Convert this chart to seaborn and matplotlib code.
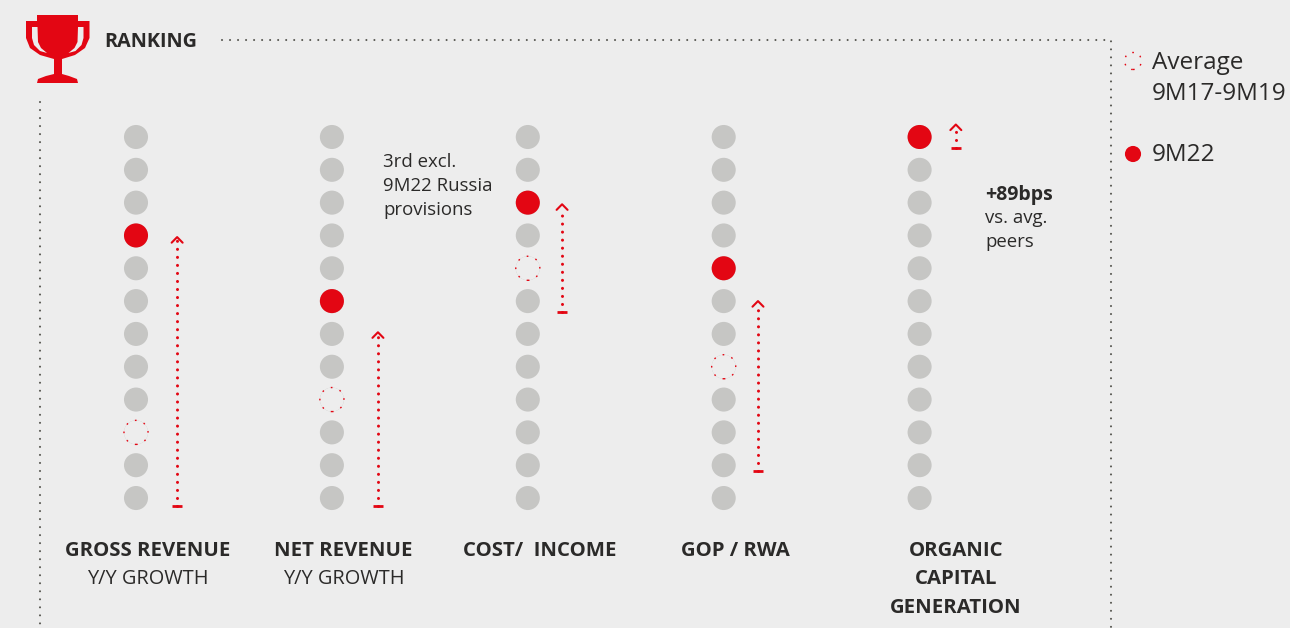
import matplotlib
matplotlib.use("Agg")
import matplotlib.pyplot as plt
from matplotlib.patches import Polygon
import numpy as np
import pandas as pd
import seaborn as sns

# ---- data ----
metrics = ["GROSS REVENUE", "NET REVENUE", "COST/  INCOME", "GOP / RWA", "ORGANIC\nCAPITAL\nGENERATION"]
sublabels = ["Y/Y GROWTH", "Y/Y GROWTH", "", "", ""]
rank_9m22 = [4, 6, 3, 5, 1]
rank_avg = [10, 9, 5, 8, None]
arrow_base = [12.24, 12.24, 6.33, 11.18, 1.33]
arrow_tip = [4.05, 6.95, 3.05, 6.0, 0.62]
arrow_x = [0.21, 1.235, 2.175, 3.175, 4.185]
n_peers = 12
note_net = "3rd excl.\n9M22 Russia\nprovisions"
note_org_bold = "+89bps"
note_org = "vs. avg.\npeers"
legend_avg = "Average\n9M17-9M19"
legend_cur = "9M22"
title = "RANKING"

RED = "#E30613"
GREY = "#C6C6C4"
BG = "#EDEDED"
INK = "#2B2A29"
DOT = "#55554F"

sns.set_theme(style="white")
plt.rcParams["font.family"] = ["Open Sans", "DejaVu Sans"]

W, H = 1290, 628
fig = plt.figure(figsize=(W / 100, H / 100), dpi=100, facecolor=BG)
ax = fig.add_axes([0, 0, 1, 1], facecolor="none")
x0, dx, y0, dy = 136.0, 195.9, 137.0, 32.82
ax.set_xlim(-x0 / dx, (W - x0) / dx)
ax.set_ylim(1 + (H - y0) / dy, 1 - y0 / dy)
ax.axis("off")

# overlay in pixel units for furniture
px = fig.add_axes([0, 0, 1, 1], facecolor="none", zorder=-1)
px.set_xlim(0, W)
px.set_ylim(H, 0)
px.axis("off")
top = fig.add_axes([0, 0, 1, 1], facecolor="none", zorder=5)
top.set_xlim(0, W)
top.set_ylim(H, 0)
top.axis("off")

bg = pd.DataFrame([(i, r) for i in range(len(metrics)) for r in range(1, n_peers + 1)], columns=["col", "rank"])
sns.scatterplot(data=bg, x="col", y="rank", s=300, color=GREY, edgecolor="none", ax=ax, legend=False, zorder=2)
cur = pd.DataFrame({"col": range(len(metrics)), "rank": rank_9m22})
sns.scatterplot(data=cur, x="col", y="rank", s=300, color=RED, edgecolor="none", ax=ax, legend=False, zorder=3)
avg = pd.DataFrame({"col": range(len(metrics)), "rank": rank_avg}).dropna()
ax.scatter(avg["col"], avg["rank"], s=300, facecolors=BG, edgecolors=RED, linewidths=1.0,
           linestyle=(0, (1.2, 5.5)), zorder=3)
ax.set_xlabel("")
ax.set_ylabel("")

# improvement arrows
for xa, b, t in zip(arrow_x, arrow_base, arrow_tip):
    ax.plot([xa, xa], [b, t + 0.1], color=RED, lw=2.2, ls=(0, (0.01, 2.62)), dash_capstyle="round", zorder=3)
    ax.plot([xa - 0.027, xa + 0.027], [b, b], color=RED, lw=2.0, solid_capstyle="butt", zorder=3)
    ax.plot([xa - 0.028, xa, xa + 0.028], [t + 0.17, t, t + 0.17], color=RED, lw=1.5, zorder=3)

# frame
fr = dict(color=DOT, lw=1.5, ls=(0, (0.01, 3.84)), dash_capstyle="round")
px.plot([221.5, 1110.7, 1110.7], [40, 40, 628], **fr)
px.plot([40.3, 40.3], [101.5, 628], **fr)

# trophy
outer = [(26, 21), (37, 21), (37, 15), (78, 15), (78, 21), (89.5, 21), (89.5, 38), (85, 48), (75, 55), (62, 59),
         (62, 74), (69, 76), (77, 79), (78, 83), (37, 83), (38, 79), (46, 76), (54, 74), (54, 59), (40, 55),
         (30, 48), (26, 38)]
cutl = [(32, 27), (37.5, 27), (38, 42), (41, 48), (47, 53), (40, 51), (34, 45), (32, 38)]
cutr = [(83.5, 27), (78, 27), (77.5, 42), (74.5, 48), (68.5, 53), (75.5, 51), (81.5, 45), (83.5, 38)]
top.add_patch(Polygon(outer, closed=True, fc=RED, ec="none"))
top.add_patch(Polygon(cutl, closed=True, fc=BG, ec="none"))
top.add_patch(Polygon(cutr, closed=True, fc=BG, ec="none"))
top.text(104.5, 42, title, fontsize=14.3, fontweight="bold", color=INK, va="center", ha="left")

# category labels
centres = [148, 343.5, 539.5, 735, 956]
for c, m, s in zip(centres, metrics, sublabels):
    top.text(c, 540.5, m, fontsize=14.7, fontweight="bold", color=INK, ha="center", va="top", linespacing=1.57)
    if s:
        top.text(c, 568.5, s, fontsize=14.4, color=INK, ha="center", va="top")

# notes
top.text(383, 153, note_net, fontsize=13.4, color=INK, ha="left", va="top", linespacing=1.44)
top.text(985, 185, note_org_bold, fontsize=14, fontweight="bold", color=INK, ha="left", va="top")
top.text(985, 209, note_org, fontsize=13.4, color=INK, ha="left", va="top", linespacing=1.44)

# legend
top.scatter([1133], [61], s=150, facecolors=BG, edgecolors=RED, linewidths=1.0, linestyle=(0, (1.2, 5.0)))
top.scatter([1133], [154], s=135, color=RED, edgecolors="none")
top.text(1152, 51, legend_avg, fontsize=17.5, color=INK, ha="left", va="top", linespacing=1.4)
top.text(1152, 143, legend_cur, fontsize=17.5, color=INK, ha="left", va="top")

fig.savefig("out.png", dpi=100, facecolor=BG)
